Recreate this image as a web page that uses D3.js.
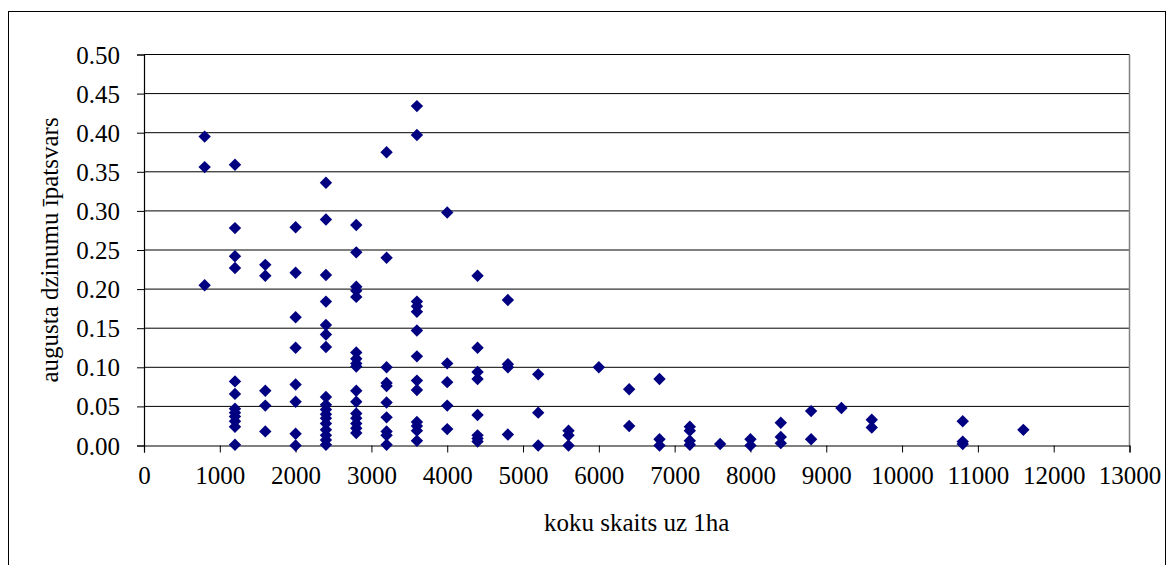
<!DOCTYPE html>
<html>
<head>
<meta charset="utf-8">
<script src="https://cdn.jsdelivr.net/npm/d3@7"></script>
<style>
  html, body { margin: 0; padding: 0; background: #fff; }
  svg { display: block; }
</style>
</head>
<body>
<svg id="chart" width="1168" height="565"></svg>
<script>
// Stand density (trees per hectare) and the August shoot share measured in each stand
const treesPerHa = [800, 1200, 1600, 2000, 2400, 2800, 3200, 3600, 4000, 4400, 4800,
  5200, 5600, 6000, 6400, 6800, 7200, 7600, 8000, 8400, 8800, 9200, 9600, 10800, 11600];

const augustShare = [
  [0.395, 0.356, 0.205],
  [0.359, 0.278, 0.242, 0.227, 0.082, 0.066, 0.047, 0.042, 0.037, 0.031, 0.024, 0.001],
  [0.231, 0.217, 0.070, 0.051, 0.018],
  [0.279, 0.221, 0.164, 0.125, 0.078, 0.056, 0.015, 0.000],
  [0.336, 0.289, 0.218, 0.184, 0.154, 0.142, 0.126, 0.062, 0.052, 0.046, 0.040, 0.035, 0.028, 0.020, 0.013, 0.007, 0.001],
  [0.282, 0.247, 0.203, 0.198, 0.190, 0.119, 0.111, 0.105, 0.101, 0.070, 0.056, 0.041, 0.035, 0.028, 0.022, 0.016],
  [0.375, 0.240, 0.100, 0.080, 0.076, 0.055, 0.036, 0.018, 0.013, 0.001],
  [0.434, 0.397, 0.184, 0.178, 0.171, 0.147, 0.114, 0.083, 0.071, 0.030, 0.025, 0.019, 0.006],
  [0.298, 0.105, 0.081, 0.051, 0.021],
  [0.217, 0.125, 0.094, 0.085, 0.039, 0.013, 0.009, 0.005],
  [0.186, 0.104, 0.100, 0.014],
  [0.091, 0.042, 0.000],
  [0.019, 0.013, 0.000],
  [0.100],
  [0.072, 0.025],
  [0.085, 0.008, 0.000],
  [0.024, 0.019, 0.006, 0.001],
  [0.002],
  [0.008, 0.000],
  [0.029, 0.011, 0.003],
  [0.044, 0.008],
  [0.048],
  [0.033, 0.023],
  [0.031, 0.005, 0.002],
  [0.020]
];

const xTicks = d3.range(0, 13001, 1000);
const yTicks = d3.range(0, 0.5001, 0.05);

const xLabel = "koku skaits uz 1ha";
const yLabel = "augusta dzinumu īpatsvars";

const FONT = "Liberation Serif";

const points = treesPerHa.flatMap((n, i) => augustShare[i].map(v => ({ n, v })));

const svg = d3.select("#chart");
const plot = { left: 144, right: 1129.5, top: 54.5, bottom: 445.5 };

const x = d3.scaleLinear().domain([0, 13000]).range([plot.left, plot.right]);
const y = d3.scaleLinear().domain([0, 0.5]).range([plot.bottom, plot.top]);

// outer chart frame
svg.append("rect")
  .attr("x", 8.5).attr("y", 11.5)
  .attr("width", 1157).attr("height", 600)
  .attr("fill", "#fff").attr("stroke", "#000").attr("stroke-width", 1);

// horizontal gridlines
svg.append("g")
  .selectAll("line")
  .data(yTicks.filter(t => t > 0))
  .join("line")
  .attr("x1", plot.left).attr("x2", plot.right)
  .attr("y1", d => y(d)).attr("y2", d => y(d))
  .attr("stroke", "#000").attr("stroke-width", 1);

// right border of the plot area
svg.append("line")
  .attr("x1", plot.right).attr("x2", plot.right)
  .attr("y1", plot.top).attr("y2", plot.bottom)
  .attr("stroke", "#808080").attr("stroke-width", 1.5);

// axes
const xAxis = d3.axisBottom(x).tickValues(xTicks).tickSize(7).tickPadding(14)
  .tickFormat(d3.format("d"));
const yAxis = d3.axisLeft(y).tickValues(yTicks).tickSize(7).tickPadding(17)
  .tickFormat(d3.format(".2f"));

const gx = svg.append("g").attr("transform", `translate(0,${plot.bottom})`).call(xAxis);
const gy = svg.append("g").attr("transform", `translate(${plot.left},0)`).call(yAxis);

[gx, gy].forEach(g => {
  g.attr("font-family", FONT).attr("font-size", 25);
  g.select(".domain").attr("stroke", "#000").attr("stroke-width", 1.2);
  g.selectAll(".tick line").attr("stroke", "#000");
  g.selectAll(".tick text")
    .attr("fill", "#000")
    .attr("font-family", FONT)
    .attr("font-size", 25);
});
gy.selectAll(".tick text").attr("dy", "0.34em");

// markers
const diamond = "M0,-6.2L6.2,0L0,6.2L-6.2,0Z";
svg.append("g")
  .selectAll("path")
  .data(points)
  .join("path")
  .attr("d", diamond)
  .attr("transform", d => `translate(${x(d.n)},${y(d.v)})`)
  .attr("fill", "#000080");

// axis titles
svg.append("text")
  .attr("x", (plot.left + plot.right) / 2)
  .attr("y", 531)
  .attr("text-anchor", "middle")
  .attr("font-family", FONT)
  .attr("font-size", 25)
  .attr("fill", "#000")
  .text(xLabel);

svg.append("text")
  .attr("transform", `translate(58,${(plot.top + plot.bottom) / 2}) rotate(-90)`)
  .attr("text-anchor", "middle")
  .attr("font-family", FONT)
  .attr("font-size", 25)
  .attr("fill", "#000")
  .text(yLabel);
</script>
</body>
</html>
